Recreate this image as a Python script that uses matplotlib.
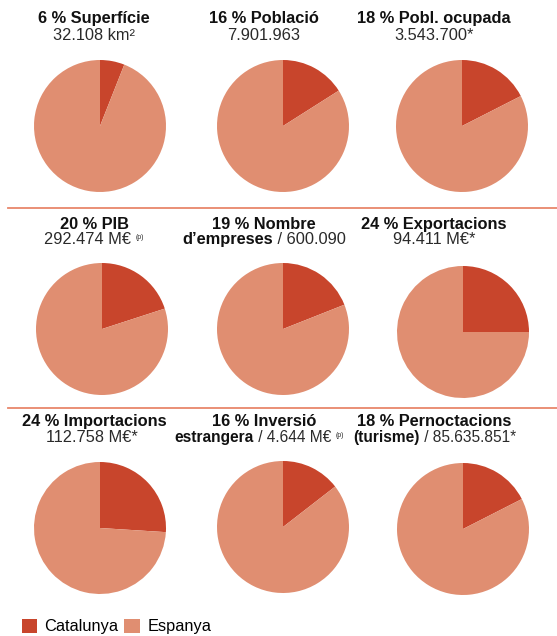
import matplotlib
matplotlib.use('Agg')
import matplotlib.pyplot as plt
from matplotlib.patches import Patch

W, H = 557, 636
plt.rcParams['font.family'] = ['Liberation Sans', 'DejaVu Sans']

# ---- data ----
series_names = ['Catalunya', 'Espanya']
catalunya_share = [6, 16, 17.5, 20, 19, 25, 26, 14.5, 17.5]   # drawn wedge sizes (%)
panel_headlines = ['6 % Superfície', '16 % Població', '18 % Pobl. ocupada',
                   '20 % PIB', '19 % Nombre', '24 % Exportacions',
                   '24 % Importacions', '16 % Inversió', '18 % Pernoctacions']
panel_sublines = [
    [('32.108 km²', 'n')],
    [('7.901.963', 'n')],
    [('3.543.700*', 'n')],
    [('292.474 M€ ', 'n'), ('(p)', 'p')],
    [('d’empreses', 'b'), (' / 600.090', 'n')],
    [('94.411 M€*', 'n')],
    [('112.758 M€*', 'n')],
    [('estrangera', 'b'), (' / 4.644 M€ ', 'n'), ('(p)', 'p')],
    [('(turisme)', 'b'), (' / 85.635.851*', 'n')],
]

col_dark = '#c8452c'
col_light = '#e08e71'
line_col = '#e8876b'

fig = plt.figure(figsize=(W / 100, H / 100), dpi=100)
renderer = fig.canvas.get_renderer()

pie_centers = [(100, 126), (283, 126), (462, 126),
               (102, 329), (283, 329), (463, 332),
               (100, 528), (283, 527), (463, 529)]
R = 66
text_cx = [94, 264, 434]
sub_cx = [94, 264, 434, 94, 264, 434, 92, 259, 435]
sub_fs = [11.8] * 7 + [11.2, 11.2]
baselines = [(23, 39.5), (229, 244), (426, 442)]
FS = 11.8

def fx(x): return x / W
def fy(y): return 1 - y / H

def draw_line(parts, cx, base, fs):
    objs = []
    for txt, st in parts:
        if st == 'b':
            t = fig.text(0, 0, txt, fontsize=fs, fontweight='bold', color='#111111')
            dy = 0
        elif st == 'n':
            t = fig.text(0, 0, txt, fontsize=fs, color='#2a2a2a')
            dy = 0
        else:
            t = fig.text(0, 0, txt, fontsize=5.0, color='#2a2a2a')
            dy = 5
        objs.append((t, dy))
    widths = [t.get_window_extent(renderer).width for t, _ in objs]
    total = sum(widths)
    x = cx - total / 2
    for (t, dy), w in zip(objs, widths):
        t.set_position((fx(x), fy(base - dy)))
        t.set_va('baseline')
        t.set_ha('left')
        x += w

for i, share in enumerate(catalunya_share):
    r, c = divmod(i, 3)
    cx, cy = pie_centers[i]
    ax = fig.add_axes([fx(cx - R), fy(cy + R), 2 * R / W, 2 * R / H])
    ax.pie([share, 100 - share], colors=[col_dark, col_light], startangle=90,
           counterclock=False, radius=1, wedgeprops=dict(linewidth=0))
    ax.set_xlim(-1, 1)
    ax.set_ylim(-1, 1)
    ax.set_aspect('equal')
    ax.axis('off')
    b1, b2 = baselines[r]
    draw_line([(panel_headlines[i], 'b')], text_cx[c], b1, FS)
    draw_line(panel_sublines[i], sub_cx[i], b2, sub_fs[i])

for yl in (208, 408):
    fig.add_artist(plt.Line2D([fx(8), fx(557)], [fy(yl), fy(yl)], color=line_col, lw=1.3))

handles = [Patch(facecolor=col_dark, edgecolor='none'), Patch(facecolor=col_light, edgecolor='none')]
fig.legend(handles, series_names, loc='lower left', bbox_to_anchor=(fx(20), fy(636)),
           ncol=2, frameon=False, fontsize=FS, handlelength=0.95, handleheight=0.95,
           handletextpad=0.45, columnspacing=0.35, borderpad=0.1, borderaxespad=0)

fig.savefig('out.png', dpi=100, facecolor='white')
